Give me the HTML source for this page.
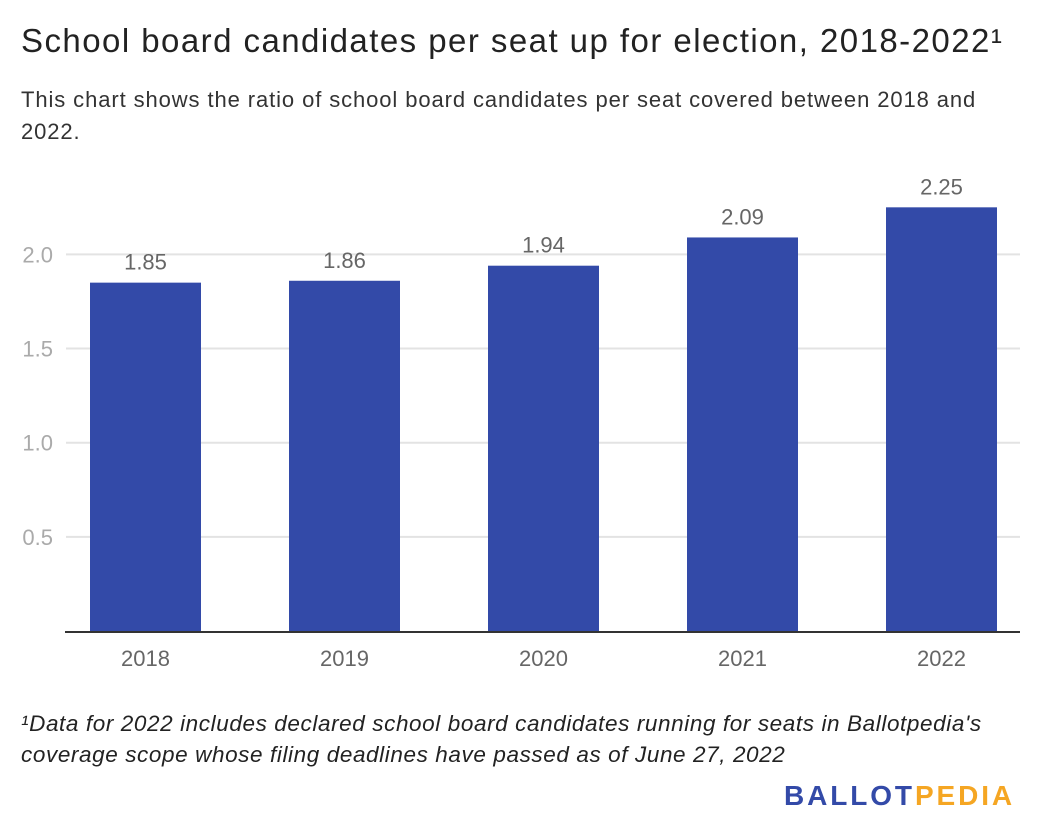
<!DOCTYPE html>
<html><head><meta charset="utf-8"><style>
body{margin:0;width:1040px;height:840px;background:#fff;font-family:"Liberation Sans",sans-serif;position:relative;overflow:hidden}
.t{position:absolute;left:21px;top:22px;font-size:33px;letter-spacing:1.45px;color:#222;white-space:nowrap}
.s{position:absolute;left:21px;top:84px;width:985px;font-size:22px;letter-spacing:0.9px;line-height:32px;color:#333}
.f{position:absolute;left:21px;top:708px;width:1005px;font-size:22.5px;letter-spacing:0.6px;line-height:31px;font-style:italic;color:#222}
.logo{position:absolute;left:784px;top:780px;font-size:28px;font-weight:bold;letter-spacing:2.9px}
</style></head><body>
<div class="t">School board candidates per seat up for election, 2018-2022¹</div>
<div class="s">This chart shows the ratio of school board candidates per seat covered between 2018 and 2022.</div>
<svg id="c" width="1040" height="840" style="position:absolute;left:0;top:0"></svg>
<div class="f">¹Data for 2022 includes declared school board candidates running for seats in Ballotpedia's coverage scope whose filing deadlines have passed as of June 27, 2022</div>
<div class="logo"><span style="color:#334aa8">BALLOT</span><span style="color:#f5a623">PEDIA</span></div>
<script>
const categories=["2018","2019","2020","2021","2022"];
const values=[1.85,1.86,1.94,2.09,2.25];
const yTicks=[0.5,1.0,1.5,2.0];
const yTickLabels=["0.5","1.0","1.5","2.0"];
const NS="http://www.w3.org/2000/svg";
const svg=document.getElementById("c");
const y0=631,pxPerUnit=188.3,left=46,band=199,barW=111;
const y=v=>y0-v*pxPerUnit;
const xc=i=>left+band*i+band/2;
function mk(t,a){const e=document.createElementNS(NS,t);for(const k in a)e.setAttribute(k,a[k]);svg.appendChild(e);return e;}
yTicks.forEach((v,i)=>{
 const g=mk("line",{x1:66,x2:1020,y1:y(v),y2:y(v),stroke:"#e3e3e3","stroke-width":2});
 
 
 const t=mk("text",{x:53,y:y(v)+8,"text-anchor":"end","font-size":22,fill:"#aaa","font-family":"Liberation Sans"});
 t.textContent=yTickLabels[i];
 
 
});
categories.forEach((c,i)=>{
 const r=mk("rect",{x:xc(i)-barW/2,y:y(values[i]),width:barW,height:y0-y(values[i]),fill:"#334aa8"});
 
 
 const l=mk("text",{x:xc(i),y:y(values[i])-13,"text-anchor":"middle","font-size":22,fill:"#666","font-family":"Liberation Sans"});
 l.textContent=values[i].toFixed(2);
 
 
 const x=mk("text",{x:xc(i),y:666,"text-anchor":"middle","font-size":22,fill:"#666","font-family":"Liberation Sans"});
 x.textContent=c;
 
 
});
const b=mk("line",{x1:65,x2:1020,y1:y0+1,y2:y0+1,stroke:"#333","stroke-width":2});


</script>
</body></html>
